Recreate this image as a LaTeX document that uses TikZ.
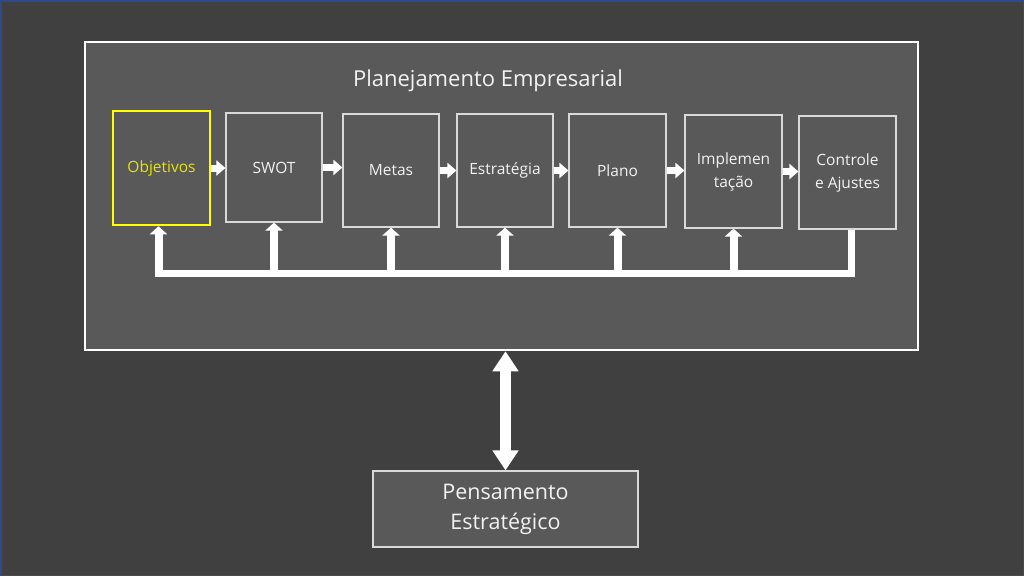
\documentclass[tikz,border=0pt]{standalone}
\usepackage{fontspec}
\setmainfont{Open Sans}
\usetikzlibrary{arrows.meta}
\definecolor{bgc}{HTML}{404040}
\definecolor{panelc}{HTML}{595959}
\definecolor{txtc}{HTML}{F2F2F2}
\definecolor{boxline}{HTML}{D9D9D9}
\definecolor{yel}{HTML}{FFFF00}
\definecolor{yeltxt}{HTML}{E6E600}
\definecolor{edgeblue}{HTML}{2E4A8A}
\tikzset{
  stepbox/.style={draw=boxline, line width=1.2pt, fill=panelc, inner sep=0pt, align=center,
    text=txtc, font=\fontsize{15.5}{23}\selectfont},
  harrow/.style={white, line width=7pt, -{Triangle[width=15pt,length=9pt]}},
  fbline/.style={white, line width=7pt, line join=miter},
  fbarrow/.style={white, line width=8pt, -{Triangle[width=17pt,length=8pt]}},
  bigarrow/.style={white, line width=11pt, {Triangle[width=25pt,length=20pt]}-{Triangle[width=25pt,length=20pt]}}
}
\begin{document}
\begin{tikzpicture}[x=1pt,y=-1pt]
\useasboundingbox (0,0) rectangle (1024,576);
\fill[bgc] (0,0) rectangle (1024,576);
\draw[edgeblue, line width=1.5pt] (0.75,0.75) rectangle (1023.25,575.25);
% panel
\node[draw=white, line width=2.5pt, fill=panelc, minimum width=833pt, minimum height=308pt, inner sep=0pt] (panel) at (501.5,196) {};
\node[text=txtc, font=\fontsize{22}{26}\selectfont] (title) at (488,81) {Planejamento Empresarial};
% step boxes
\node[stepbox, draw=yel, line width=2.5pt, text=yeltxt, minimum width=97pt, minimum height=114pt] (obj) at (161.5,168) {Objetivos};
\node[stepbox, minimum width=96pt, minimum height=109pt] (swot) at (274,167.5) {SWOT};
\node[stepbox, minimum width=96pt, minimum height=113pt] (metas) at (391,170.5) {Metas};
\node[stepbox, minimum width=96pt, minimum height=113pt] (estr) at (505,170.5) {Estratégia};
\node[stepbox, minimum width=97pt, minimum height=113pt] (plano) at (617.5,170.5) {Plano};
\node[stepbox, minimum width=97pt, minimum height=113pt] (impl) at (733.5,171.5) {Implemen\\tação};
\node[stepbox, minimum width=97pt, minimum height=113pt] (ctrl) at (847.5,172.5) {Controle\\e Ajustes};
% lower box
\node[draw=boxline, line width=1.2pt, fill=panelc, minimum width=265pt, minimum height=76pt, inner sep=0pt,
  align=center, text=txtc, font=\fontsize{21.5}{30}\selectfont] (pens) at (505.5,509) {Pensamento\\Estratégico};
% horizontal arrows
\draw[harrow] (obj.east) -- (obj.east -| swot.west);
\draw[harrow] (swot.east) -- (swot.east -| metas.west);
\draw[harrow] (metas.east) -- (metas.east -| estr.west);
\draw[harrow] (estr.east) -- (estr.east -| plano.west);
\draw[harrow] (plano.east) -- (plano.east -| impl.west);
\draw[harrow] (impl.east) -- (impl.east -| ctrl.west);
% feedback loop
\coordinate (bar) at (0,273.5);
\coordinate (ctrlout) at ([xshift=4pt]ctrl.south);
\coordinate (objin) at ([xshift=-3pt]obj.south);
\draw[fbline] (ctrlout) -- (ctrlout |- bar) -- (objin |- bar) -- ([yshift=4pt]objin |- bar);
\draw[fbarrow] ([yshift=3.5pt]objin |- bar) -- (objin);
\draw[fbarrow] (swot.south |- bar) -- (swot.south);
\draw[fbarrow] (metas.south |- bar) -- (metas.south);
\draw[fbarrow] (estr.south |- bar) -- (estr.south);
\draw[fbarrow] (plano.south |- bar) -- (plano.south);
\draw[fbarrow] (impl.south |- bar) -- (impl.south);
% double arrow
\draw[bigarrow] (pens.north |- panel.south) -- (pens.north);
\end{tikzpicture}
\end{document}
